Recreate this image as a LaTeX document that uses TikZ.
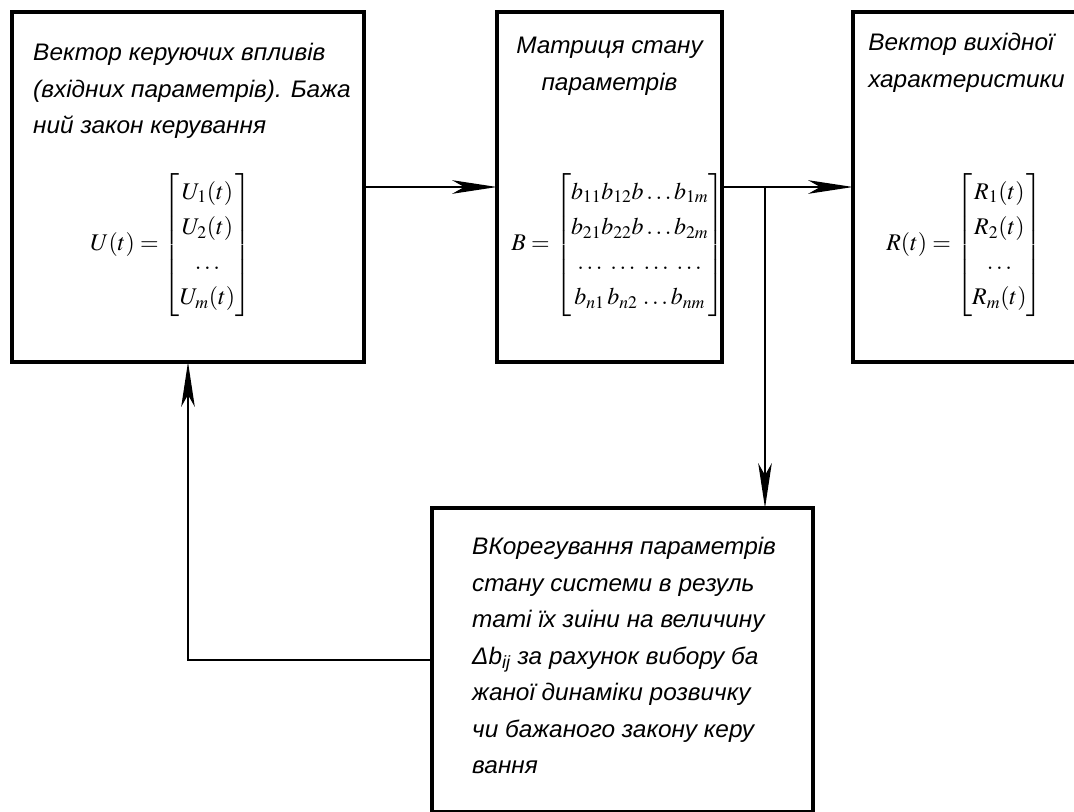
\documentclass[tikz,border=0pt]{standalone}
\usepackage{amsmath}
\usepackage{mathptmx}
\usepackage[no-math]{fontspec}
\usepackage{tikz}
\usetikzlibrary{arrows.meta,%
                positioning}
\newfontfamily\gostfont[FakeStretch=1.02]{Liberation Sans}

\begin{document}
\begin{tikzpicture}[x=0.025cm, y=-0.025cm]
  \tikzstyle{BlockStyle} = [draw, line width = 2.8pt,
                            inner sep = 0, outer sep = 0]
  \tikzstyle{TextStyle} = [inner sep = 0, align = left,
                           font = \gostfont\itshape\fontsize{17}{26}\selectfont]
  \tikzstyle{MathStyle} = [inner sep = 0, anchor = west,
                           font = \fontsize{17}{25}\selectfont]
\tikzset{LinkStyle/.style={line width = 1pt,
  -{Stealth[length = 1.12cm, width = 0.34cm, inset = 0.3cm]}}}
\clip (0,0) rectangle (1074,811);
\fill[white] (0,0) rectangle (1074,811);

\node[BlockStyle, minimum width = 8.8cm, minimum height = 8.75cm] (K1) at (188,187) {};
\node[BlockStyle, minimum width = 5.625cm, minimum height = 8.75cm] (K2) at (609.5,187) {};
\node[BlockStyle, minimum width = 5.925cm, minimum height = 8.75cm] (K3) at (971.5,187) {};
\node[BlockStyle, minimum width = 9.525cm, minimum height = 7.6cm] (K4) at (622.5,660) {};

\node[TextStyle, below right = 0.775cm and 0.525cm of K1.north west] (T1)
  {Вектор керуючих впливів\\(вхідних параметрів). Бажа\\ний закон керування};
\node[TextStyle, align = center, below = 0.625cm of K2.north] (T2)
  {Матриця стану\\параметрів};
\node[TextStyle, below right = 0.525cm and 0.375cm of K3.north west] (T3)
  {Вектор вихідної\\характеристики};
\node[TextStyle, below right = 0.725cm and 1cm of K4.north west] (T4)
  {ВКорегування параметрів\\стану системи в резуль\\таті їх зиіни на величину\\%
   Δb\textsubscript{ij} за рахунок вибору ба\\жаної динаміки розвичку\\%
   чи бажаного закону керу\\вання};

\node[MathStyle] (M1) at (90,245)
  {$U(t)=\begin{bmatrix}U_1(t)\\U_2(t)\\\dots\\U_m(t)\end{bmatrix}$};
\node[MathStyle] (M2) at (511,245)
  {$B=\begin{bmatrix}b_{11}b_{12}b\ldots b_{1m}\\b_{21}b_{22}b\ldots b_{2m}\\
   \ldots\;\ldots\;\ldots\;\ldots\\b_{n1}\,b_{n2}\,\ldots b_{nm}\end{bmatrix}$};
\node[MathStyle] (M3) at (886,245)
  {$R(t)=\begin{bmatrix}R_1(t)\\R_2(t)\\\dots\\R_m(t)\end{bmatrix}$};

\coordinate (S) at (765,187);
\draw[LinkStyle] (K1.east) -- (K2.west);
\draw[LinkStyle] (K2.east) -- (K3.west);
\draw[LinkStyle] (S) -- (S |- K4.north);
\draw[LinkStyle] (K4.west) -| (K1.south);

\end{tikzpicture}
\end{document}
